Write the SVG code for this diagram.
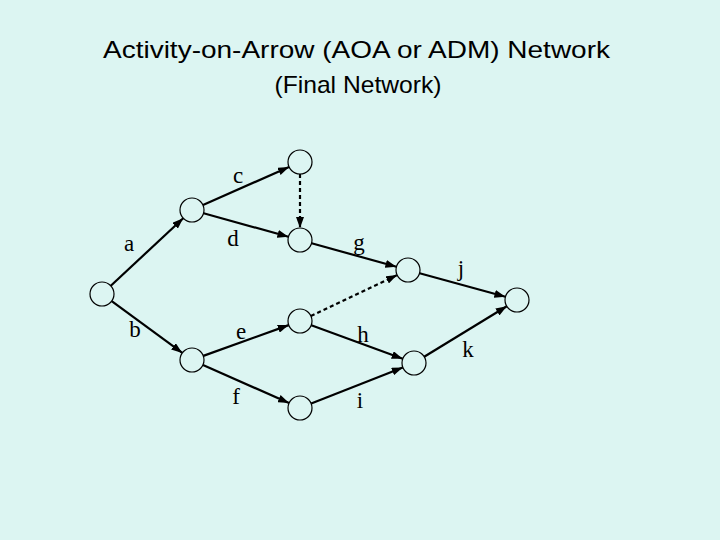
<svg xmlns="http://www.w3.org/2000/svg" width="720" height="540" viewBox="0 0 720 540">
<style>
.node{fill:none;stroke:#000;stroke-width:1.2}
.edge{stroke:#000;stroke-width:2.2;fill:none;marker-end:url(#ah)}
.dash{stroke-dasharray:4,3}
.lbl{font-family:"Liberation Serif",serif;font-size:23px;fill:#000;text-anchor:middle}
.title{font-family:"Liberation Sans",Arial,sans-serif;fill:#000;text-anchor:middle}
</style>
<defs>
<marker id="ah" markerUnits="userSpaceOnUse" markerWidth="11" markerHeight="8" refX="11" refY="4" orient="auto">
<path d="M0,0 L11,4 L0,8 z" fill="#000"/>
</marker>
</defs>
<rect width="720" height="540" fill="#dcf5f2"/>
<text class="title" x="356.5" y="58" font-size="24" textLength="507" lengthAdjust="spacingAndGlyphs">Activity-on-Arrow (AOA or ADM) Network</text>
<text class="title" x="358" y="93" font-size="24" textLength="167" lengthAdjust="spacingAndGlyphs">(Final Network)</text>
<g id="connectors">
<line id="e-a" class="edge" x1="110.8" y1="285.8" x2="183.2" y2="218.2"/>
<line id="e-b" class="edge" x1="111.7" y1="301.1" x2="182.3" y2="352.9"/>
<line id="e-c" class="edge" x1="203" y1="205.1" x2="289" y2="166.9"/>
<line id="e-d" class="edge" x1="203.6" y1="213.2" x2="288.4" y2="236.8"/>
<line id="e-dummy1" class="edge dash" x1="300" y1="174" x2="300" y2="228"/>
<line id="e-g" class="edge" x1="311.6" y1="243.2" x2="396.4" y2="266.8"/>
<line id="e-j" class="edge" x1="419.6" y1="273.2" x2="505.4" y2="296.8"/>
<line id="e-e" class="edge" x1="203.3" y1="355.9" x2="288.7" y2="325.1"/>
<line id="e-f" class="edge" x1="203" y1="364.9" x2="289" y2="403.1"/>
<line id="e-dummy2" class="edge dash" x1="310.9" y1="315.9" x2="397.1" y2="275.1"/>
<line id="e-h" class="edge" x1="311.3" y1="325.2" x2="402.7" y2="358.8"/>
<line id="e-i" class="edge" x1="311.2" y1="403.6" x2="402.8" y2="367.4"/>
<line id="e-k" class="edge" x1="424.2" y1="356.7" x2="506.8" y2="306.3"/>
</g>
<g id="labels">
<text class="lbl" x="129" y="251">a</text>
<text class="lbl" x="135" y="337">b</text>
<text class="lbl" x="238" y="183">c</text>
<text class="lbl" x="233" y="246">d</text>
<text class="lbl" x="241" y="339">e</text>
<text class="lbl" x="236" y="404">f</text>
<text class="lbl" x="359" y="250">g</text>
<text class="lbl" x="363" y="342">h</text>
<text class="lbl" x="360" y="408">i</text>
<text class="lbl" x="461" y="276">j</text>
<text class="lbl" x="468" y="357">k</text>
</g>
<g id="n1"><circle class="node" cx="102" cy="294" r="12"/></g>
<g id="n2"><circle class="node" cx="192" cy="210" r="12"/></g>
<g id="n3"><circle class="node" cx="300" cy="162" r="12"/></g>
<g id="n4"><circle class="node" cx="300" cy="240" r="12"/></g>
<g id="n5"><circle class="node" cx="408" cy="270" r="12"/></g>
<g id="n6"><circle class="node" cx="517" cy="300" r="12"/></g>
<g id="n7"><circle class="node" cx="192" cy="360" r="12"/></g>
<g id="n8"><circle class="node" cx="300" cy="321" r="12"/></g>
<g id="n9"><circle class="node" cx="300" cy="408" r="12"/></g>
<g id="n10"><circle class="node" cx="414" cy="363" r="12"/></g>
</svg>
